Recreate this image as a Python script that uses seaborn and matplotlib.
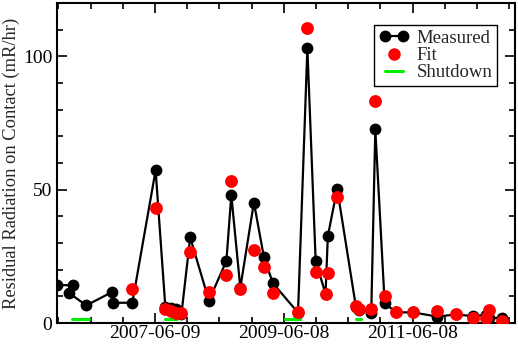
import pandas as pd
import matplotlib
matplotlib.use("Agg")
import matplotlib.pyplot as plt
import matplotlib.dates as mdates
from matplotlib.ticker import MultipleLocator, FixedLocator
from matplotlib.legend_handler import HandlerLine2D
import seaborn as sns

# Measured dose (line order as in the source plot)
meas_dates = ["2005-12-01", "2006-03-01", "2006-02-07", "2006-05-16", "2006-10-06",
              "2006-10-12", "2007-02-01", "2007-06-13", "2007-08-07", "2007-09-10",
              "2007-10-08", "2007-11-06", "2007-12-26", "2008-04-10", "2008-07-18",
              "2008-08-15", "2008-10-05", "2008-12-21", "2009-02-16", "2009-04-08",
              "2009-08-28", "2009-10-20", "2009-12-06", "2010-01-31", "2010-02-13",
              "2010-04-07", "2010-07-22", "2010-08-09", "2010-10-17", "2010-11-09",
              "2011-01-01", "2011-03-08", "2011-06-10", "2011-10-26", "2012-02-07",
              "2012-05-16", "2012-07-26", "2012-08-17", "2012-10-28"]
meas_vals = [14.2, 14.2, 11.3, 6.6, 11.5,
             7.6, 7.6, 57.3, 6.1, 5.5,
             5.3, 3.2, 32.1, 8.4, 23.3,
             47.9, 13.2, 45.2, 24.6, 14.9,
             3.9, 103.1, 23.2, 11.0, 32.6,
             50.4, 6.1, 5.0, 3.9, 72.7,
             7.4, 4.0, 4.0, 2.4, 3.2,
             2.6, 3.0, 1.8, 2.0]

# Fit values (start from 2007-02-01)
fit_dates = meas_dates[6:]
fit_vals = [12.8, 43.0, 5.3, 4.4, 3.9, 3.6, 26.8, 11.5, 17.9, 53.2,
            12.7, 27.3, 21.1, 11.1, 4.0, 110.7, 19.2, 11.0, 18.6, 47.1,
            6.4, 5.3, 5.2, 83.1, 10.2, 4.2, 4.0, 4.6, 3.3, 1.8,
            1.8, 4.9, 0.9]

# Shutdown periods
shut_start = ["2006-02-26", "2007-08-05", "2009-06-18", "2010-07-20"]
shut_end = ["2006-05-31", "2007-10-12", "2009-09-11", "2010-08-21"]
shut_level = 1.6

x_labels = ["2007-06-09", "2009-06-08", "2011-06-08"]

meas = pd.DataFrame({"date": pd.to_datetime(meas_dates), "val": meas_vals})
fit = pd.DataFrame({"date": pd.to_datetime(fit_dates), "val": fit_vals})
shut = pd.DataFrame({
    "date": pd.to_datetime(shut_start + shut_end),
    "val": [shut_level] * (2 * len(shut_start)),
    "seg": list(range(len(shut_start))) * 2,
})

sns.set_style("ticks")
plt.rcParams["font.family"] = ["Liberation Serif", "DejaVu Serif"]

fig = plt.figure(figsize=(5.18, 3.44), dpi=100)
ax = fig.add_axes([0.110, 0.061, 0.884, 0.930])

sns.lineplot(data=meas, x="date", y="val", sort=False, estimator=None, color="black",
             linewidth=1.6, marker="o", markersize=8.5, markeredgewidth=0, ax=ax)
sns.scatterplot(data=fit, x="date", y="val", color="#ff0000", s=85, linewidth=0,
                ax=ax, zorder=3)
sns.lineplot(data=shut, x="date", y="val", units="seg", estimator=None,
             color="#00ee00", linewidth=2.2, ax=ax)

ax.set_xlim(pd.Timestamp("2005-12-01"), pd.Timestamp("2013-01-08"))
ax.set_ylim(0, 120)

major = [mdates.date2num(pd.Timestamp(d)) for d in x_labels]
minor = [major[0] + k * 182.5 for k in range(-3, 12)]
ax.xaxis.set_major_locator(FixedLocator(major))
ax.xaxis.set_minor_locator(FixedLocator(minor))
ax.set_xticklabels(x_labels)
ax.yaxis.set_major_locator(MultipleLocator(50))
ax.yaxis.set_minor_locator(MultipleLocator(10))

ax.tick_params(which="both", direction="in", top=True, right=True, width=1.2,
               labelsize=14, colors="black")
ax.tick_params(which="major", length=7)
ax.tick_params(which="minor", length=4.5)
ax.tick_params(axis="x", pad=1.5)
for sp in ax.spines.values():
    sp.set_linewidth(1.5)
    sp.set_color("black")

ax.set_xlabel("")
ax.set_ylabel("Residual Radiation on Contact (mR/hr)", fontsize=13.3, labelpad=2)

h_meas = plt.Line2D([], [], color="black", linewidth=1.6, marker="o", markersize=8.5,
                    markeredgewidth=0)
h_fit = plt.Line2D([], [], color="#ff0000", linestyle="none", marker="o", markersize=9,
                   markeredgewidth=0)
h_shut = plt.Line2D([], [], color="#00ee00", linewidth=2.2)
leg = ax.legend([h_meas, h_fit, h_shut], ["Measured", "Fit", "Shutdown"],
                loc="upper right", bbox_to_anchor=(0.961, 0.931), borderaxespad=0,
                fontsize=13.5, numpoints=2, handlelength=1.6, handletextpad=0.4,
                labelspacing=0.0, borderpad=0.25, fancybox=False, framealpha=1,
                edgecolor="black", handler_map={h_fit: HandlerLine2D(numpoints=1)})
leg.get_frame().set_linewidth(1.0)

fig.savefig("out.png", dpi=100)
